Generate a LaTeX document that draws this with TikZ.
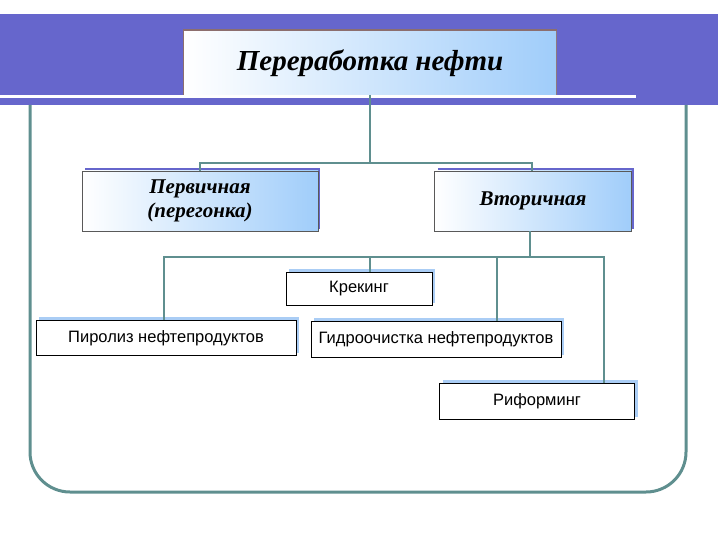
\documentclass[tikz,border=0pt]{standalone}
\usepackage{fontspec}
\setmainfont{Liberation Serif}
\newfontfamily\arial{Liberation Sans}
\definecolor{myband}{RGB}{102,102,204}
\definecolor{frameteal}{RGB}{95,143,143}
\definecolor{titlesh}{RGB}{140,110,110}
\definecolor{lightsh}{RGB}{170,205,245}
\definecolor{grad}{RGB}{160,205,250}
\begin{document}
\begin{tikzpicture}[x=1pt,y=-1pt,
  conn/.style={draw=frameteal, line width=1.2pt},
  bigbox/.style={draw=gray!70!black, line width=0.6pt, shading=axis, left color=white, right color=grad, font=\bfseries\itshape, inner sep=0pt, align=center},
  smallbox/.style={draw=black, line width=0.8pt, fill=white, font=\arial\fontsize{16.5}{19}\selectfont, inner sep=0pt, align=center},
  sh/.style={fill=lightsh}]
\useasboundingbox (0,0) rectangle (720,540);
\fill[white] (0,0) rectangle (720,540);
% band
\fill[myband] (0,14) rectangle (718,105);
\fill[white] (0,95) rectangle (636,98);
% frame
\draw[draw=frameteal, line width=3pt, rounded corners=40pt]
  (30,105) -- (30,492) -- (686,492) -- (686,105);
% title
\fill[titlesh] (183,29) rectangle (557,95);
\node[bigbox, draw=none, minimum width=372pt, minimum height=63pt, font=\bfseries\itshape\fontsize{29}{33}\selectfont] (t) at (370,63) {Переработка нефти};
% level 1
\fill[myband] (85,168) rectangle (320,229);
\node[bigbox, minimum width=236pt, minimum height=60pt, font=\bfseries\itshape\fontsize{21}{24}\selectfont] (p) at (200,201) {Первичная\\(перегонка)};
\fill[myband] (438,168) rectangle (634,229);
\node[bigbox, minimum width=197pt, minimum height=60pt, font=\bfseries\itshape\fontsize{21}{24}\selectfont] (v) at (533,201) {Вторичная};
% level 2
\fill[sh] (289,269) rectangle (435,303);
\node[smallbox, minimum width=146pt, minimum height=33pt] (k) at (359,289) {Крекинг};
\fill[sh] (39,317) rectangle (299,353);
\node[smallbox, minimum width=260pt, minimum height=35pt] (pi) at (166,338) {Пиролиз нефтепродуктов};
\fill[sh] (314,318) rectangle (564,355);
\node[smallbox, minimum width=250pt, minimum height=36pt] (g) at (436,339) {Гидроочистка нефтепродуктов};
\fill[sh] (443,380) rectangle (638,417);
\node[smallbox, minimum width=195pt, minimum height=36pt] (r) at (537,401) {Риформинг};
% connectors
\coordinate (h1) at (370,163);
\coordinate (h2) at (530,257);
\draw[conn] (t.south) -- (h1);
\draw[conn] (200,0 |- p.north) |- (h1) -| (532,0 |- v.north);
\draw[conn] (530,0 |- v.south) -- (h2);
\draw[conn] (164,0 |- pi.north) |- (h2);
\draw[conn] (h2) -| (604,0 |- r.north);
\draw[conn] (370,0 |- k.north) -- (370,0 |- h2);
\draw[conn] (497,0 |- g.north) -- (497,0 |- h2);
\end{tikzpicture}
\end{document}
